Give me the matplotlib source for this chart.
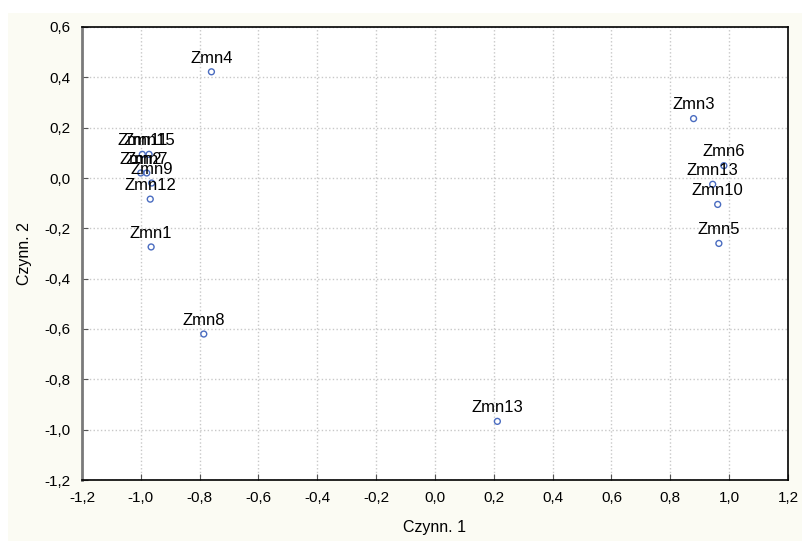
import matplotlib
matplotlib.use('Agg')
import matplotlib.pyplot as plt
from matplotlib.patches import Rectangle
import numpy as np

labels = ['Zmn1', 'Zmn2', 'Zmn3', 'Zmn4', 'Zmn5', 'Zmn6', 'Zmn7', 'Zmn8',
          'Zmn9', 'Zmn10', 'Zmn11', 'Zmn12', 'Zmn13', 'Zmn13', 'Zmn15']
factor_1 = [-0.965, -1.00, 0.879, -0.76, 0.965, 0.982, -0.98, -0.786,
            -0.963, 0.961, -0.995, -0.968, 0.944, 0.212, -0.972]
factor_2 = [-0.274, 0.02, 0.236, 0.422, -0.26, 0.049, 0.02, -0.62,
            -0.02, -0.105, 0.094, -0.084, -0.025, -0.967, 0.094]

x_ticks = [-1.2, -1.0, -0.8, -0.6, -0.4, -0.2, 0.0, 0.2, 0.4, 0.6, 0.8, 1.0, 1.2]
y_ticks = [-1.2, -1.0, -0.8, -0.6, -0.4, -0.2, 0.0, 0.2, 0.4, 0.6]
x_tick_labels = [('%.1f' % t).replace('.', ',') for t in x_ticks]
y_tick_labels = [('%.1f' % t).replace('.', ',') for t in y_ticks]

plt.rcParams['font.family'] = ['Liberation Sans', 'DejaVu Sans']

fig = plt.figure(figsize=(8.03, 5.41), dpi=100)
fig.patch.set_facecolor('white')
fig.patches.append(Rectangle((8 / 803, 0), 1, 1 - 13 / 541, transform=fig.transFigure,
                             facecolor='#fbfbf3', edgecolor='none', zorder=-10))

ax = fig.add_axes([82 / 803, 1 - 480 / 541, (788 - 82) / 803, (480 - 27) / 541])
ax.set_facecolor('white')

ax.scatter(factor_1, factor_2, s=18, facecolors='none', edgecolors='#4a6cc0',
           linewidths=1.0, zorder=3)

for name, x, y in zip(labels, factor_1, factor_2):
    ax.annotate(name, (x, y), xytext=(0, 4.5), textcoords='offset points',
                ha='center', va='bottom', fontsize=12, color='black', zorder=4)

ax.set_xlim(-1.2, 1.2)
ax.set_ylim(-1.2, 0.6)
ax.set_xticks(x_ticks)
ax.set_xticklabels(x_tick_labels)
ax.set_yticks(y_ticks)
ax.set_yticklabels(y_tick_labels)
ax.tick_params(direction='in', length=4, labelsize=11, pad=8, color='#555555')

ax.grid(True, color='#c8c8c8', linestyle=':', linewidth=1.0)
ax.set_axisbelow(True)

for side in ['top', 'right', 'bottom']:
    ax.spines[side].set_color('black')
    ax.spines[side].set_linewidth(1.2)
ax.spines['left'].set_color('#7a7a7a')
ax.spines['left'].set_linewidth(2)

ax.set_xlabel('Czynn. 1', fontsize=11.5, labelpad=11)
ax.set_ylabel('Czynn. 2', fontsize=11.5, labelpad=9)

fig.savefig('out.png', dpi=100)
